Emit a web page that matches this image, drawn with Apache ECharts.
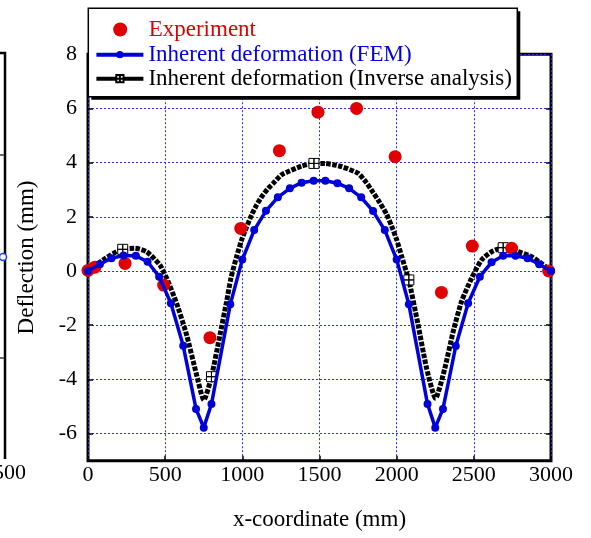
<!DOCTYPE html>
<html>
<head>
<meta charset="utf-8">
<script src="https://cdn.jsdelivr.net/npm/echarts@6/dist/echarts.min.js"></script>
<style>
html,body{margin:0;padding:0;background:#fff;}
#chart{width:591px;height:538px;}
</style>
</head>
<body>
<div id="chart"></div>
<script>
// Experiment
const expX = [0, 45, 240, 490, 790, 990, 1240, 1490, 1740, 1990, 2290, 2490, 2745, 2985];
const expY = [0.02, 0.14, 0.28, -0.52, -2.46, 1.57, 4.44, 5.86, 6.0, 4.22, -0.79, 0.92, 0.84, 0.0];
// Inherent deformation (FEM)
const femX = [0, 77, 152, 230, 310, 386, 461, 537, 617, 700, 750, 800, 922, 1000,
  1077, 1153, 1230, 1308, 1384, 1462, 1538, 1616, 1692, 1770, 1847, 1923, 2000,
  2079, 2200, 2250, 2300, 2383, 2463, 2539, 2615, 2690, 2770, 2848, 2923, 3000];
const femY = [0, 0.25, 0.47, 0.57, 0.56, 0.34, -0.21, -1.19, -2.76, -5.09, -5.78, -4.91, -1.23, 0.42,
  1.51, 2.22, 2.72, 3.05, 3.26, 3.33, 3.33, 3.24, 3.05, 2.72, 2.21, 1.51, 0.42,
  -1.23, -4.91, -5.78, -5.09, -2.77, -1.19, -0.21, 0.32, 0.56, 0.56, 0.47, 0.25, 0];
// Inherent deformation (Inverse analysis)
const invX = [0, 97, 164, 225, 304, 380, 466, 510, 574, 639, 704, 751, 800, 855, 898, 926, 963, 995,
  1028, 1060, 1093, 1125, 1168, 1211, 1254, 1384, 1464, 1535, 1643, 1751, 1805, 1848, 1891, 1935,
  1967, 1999, 2032, 2064, 2079, 2139, 2194, 2252, 2312, 2366, 2420, 2485, 2550, 2615, 2690, 2787,
  2874, 2938, 3000];
const invY = [0, 0.40, 0.65, 0.80, 0.84, 0.71, 0.22, -0.27, -1.19, -2.36, -3.84, -4.76, -3.90, -2.36, -1.13, -0.27, 0.53, 1.14,
  1.63, 2.07, 2.44, 2.74, 3.05, 3.30, 3.55, 3.87, 3.97, 3.97, 3.85, 3.60, 3.25, 2.89, 2.52, 2.09,
  1.66, 1.17, 0.55, -0.06, -0.33, -1.99, -3.59, -4.70, -3.59, -2.24, -1.13, -0.27, 0.41, 0.71, 0.86, 0.71,
  0.53, 0.28, 0];
const invMarkerX = [225, 800, 1464, 2079, 2690];
// ticks
const xTicks = [0, 500, 1000, 1500, 2000, 2500, 3000];
const yTicks = [-6, -4, -2, 0, 2, 4, 6, 8];

const FONT = 'Liberation Serif';
const GRIDBLUE = '#2b2bff';
const plusSquare = 'path://M0,0H5V5H0Z M5,0H10V5H5Z M0,5H5V10H0Z M5,5H10V10H5Z';

const chart = echarts.init(document.getElementById('chart'), null, {renderer: 'canvas'});

const expData = expX.map((x, i) => [x, expY[i]]);
const femData = femX.map((x, i) => [x, femY[i]]);
const invData = invX.map((x, i) => invMarkerX.indexOf(x) >= 0
  ? [x, invY[i]]
  : {value: [x, invY[i]], symbol: 'none'});

const legendText = {fontFamily: FONT, fontSize: 23, lineHeight: 20, padding: [4, 0, 0, 0]};

const option = {
  animation: false,
  backgroundColor: '#fff',
  textStyle: {fontFamily: FONT},
  grid: {
    left: 88, top: 54.2, right: 40, bottom: 77.3,
    show: true, borderColor: '#000', borderWidth: 3, backgroundColor: 'transparent'
  },
  xAxis: {
    type: 'value', min: xTicks[0], max: xTicks[xTicks.length - 1], interval: 500,
    axisLine: {show: false, onZero: false},
    axisTick: {show: true, inside: true, length: 5, lineStyle: {color: '#000', width: 1.5}},
    axisLabel: {color: '#000', fontFamily: FONT, fontSize: 22, margin: 4, formatter: v => String(v)},
    splitLine: {show: true, lineStyle: {color: GRIDBLUE, width: 1, type: [2, 2]}},
    name: 'x-coordinate (mm)', nameLocation: 'middle', nameGap: 48,
    nameTextStyle: {color: '#000', fontFamily: FONT, fontSize: 23}
  },
  yAxis: [{
    type: 'value', min: -7, max: 8,
    axisLine: {show: false, onZero: false},
    axisTick: {show: true, inside: true, length: 5, customValues: yTicks, lineStyle: {color: '#000', width: 1.5}},
    axisLabel: {color: '#000', fontFamily: FONT, fontSize: 22, margin: 11, customValues: yTicks},
    splitLine: {show: true, lineStyle: {color: GRIDBLUE, width: 1, type: [2, 2]}},
    name: 'Deflection (mm)', nameLocation: 'middle', nameGap: 50,
    nameTextStyle: {color: '#000', fontFamily: FONT, fontSize: 23}
  }, {
    type: 'value', min: -7, max: 8, position: 'right',
    axisLine: {show: false, onZero: false},
    axisTick: {show: true, inside: true, length: 5, customValues: yTicks, lineStyle: {color: '#000', width: 1.5}},
    axisLabel: {show: false},
    splitLine: {show: false}
  }],
  legend: [{
    data: [{name: 'Experiment', textStyle: {color: '#e00000'}}],
    orient: 'vertical', left: 113.2, top: 17.5, padding: 0,
    itemWidth: 47, itemHeight: 14, itemGap: 0, selectedMode: false, z: 60,
    textStyle: legendText
  }, {
    data: [
      {name: 'Inherent deformation (FEM)', textStyle: {color: '#0000e0'}, lineStyle: {width: 4}},
      {name: 'Inherent deformation (Inverse analysis)', textStyle: {color: '#000'}, lineStyle: {type: 'solid', width: 4}}
    ],
    orient: 'vertical', left: 94.4, top: 42.7, padding: 0,
    itemWidth: 47, itemHeight: 9, itemGap: 0, selectedMode: false, z: 60,
    textStyle: legendText
  }],
  graphic: [
    {type: 'rect', z: 50, shape: {x: 91.3, y: 11.3, width: 429, height: 88.5}, style: {fill: '#000'}},
    {type: 'rect', z: 51, shape: {x: 88.3, y: 8.3, width: 429, height: 88.5}, style: {fill: '#fff', stroke: '#000', lineWidth: 1.5}},
    {type: 'polyline', z: 5, shape: {points: [[0, 53], [5, 53], [5, 459]]}, style: {stroke: '#000', lineWidth: 2.5, fill: null}},
    {type: 'line', z: 5, shape: {x1: 0, y1: 155, x2: 4, y2: 155}, style: {stroke: '#334', lineWidth: 1.5}},
    {type: 'line', z: 5, shape: {x1: 0, y1: 358, x2: 4, y2: 358}, style: {stroke: '#334', lineWidth: 1.5}},
    {type: 'circle', z: 6, shape: {cx: 3, cy: 257, r: 3.5}, style: {stroke: '#2040ff', fill: '#fff', lineWidth: 1.5}},
    {type: 'text', z: 5, x: 26, y: 473, style: {text: '500', fontSize: 22, fontFamily: FONT, align: 'right', verticalAlign: 'middle', fill: '#000'}}
  ],
  series: [{
    name: 'Inherent deformation (Inverse analysis)',
    type: 'line', data: invData, clip: false, smooth: 0.2,
    symbol: plusSquare, symbolSize: 10,
    lineStyle: {color: '#000', width: 5, type: [4.5, 1.5], cap: 'butt'},
    itemStyle: {color: '#fff', borderColor: '#000', borderWidth: 1},
    z: 2
  }, {
    name: 'Experiment',
    type: 'scatter', data: expData, clip: false,
    symbol: 'circle', symbolSize: 13,
    itemStyle: {color: '#e00000', opacity: 1},
    z: 3
  }, {
    name: 'Inherent deformation (FEM)',
    type: 'line', data: femData, clip: false,
    symbol: 'circle', symbolSize: 8, showSymbol: true,
    lineStyle: {color: '#0000d8', width: 3.5},
    itemStyle: {color: '#0000d8'},
    z: 4
  }]
};
chart.setOption(option);
</script>
</body>
</html>
